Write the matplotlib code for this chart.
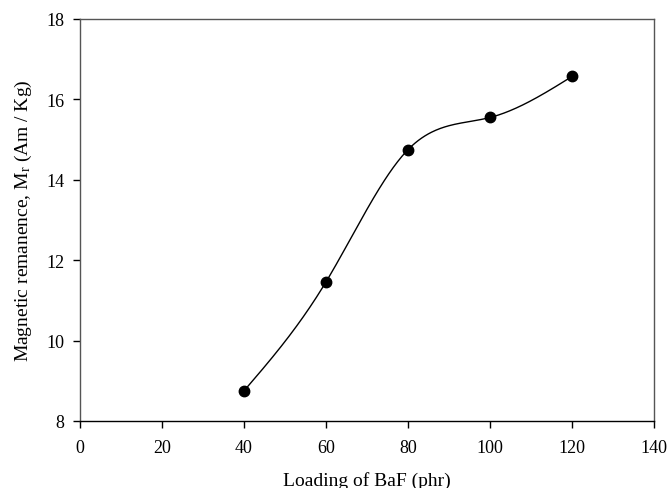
import numpy as np
import matplotlib
matplotlib.use("Agg")
import matplotlib.pyplot as plt

loading = [40, 60, 80, 100, 120]
remanence = [8.75, 11.46, 14.75, 15.55, 16.57]

x_ticks = [0, 20, 40, 60, 80, 100, 120, 140]
y_ticks = [8, 10, 12, 14, 16, 18]


def naturalSpline(x, y, n=300):
    # plain natural cubic spline, drawn through the measured points
    x = np.asarray(x, float)
    y = np.asarray(y, float)
    h = np.diff(x)
    m = len(x)
    A = np.zeros((m, m))
    b = np.zeros(m)
    A[0, 0] = 1
    A[-1, -1] = 1
    for i in range(1, m - 1):
        A[i, i - 1] = h[i - 1]
        A[i, i] = 2 * (h[i - 1] + h[i])
        A[i, i + 1] = h[i]
        b[i] = 6 * ((y[i + 1] - y[i]) / h[i] - (y[i] - y[i - 1]) / h[i - 1])
    M = np.linalg.solve(A, b)
    xs = np.linspace(x[0], x[-1], n)
    k = np.clip(np.searchsorted(x, xs) - 1, 0, m - 2)
    t = xs - x[k]
    hk = h[k]
    a = (M[k + 1] - M[k]) / (6 * hk)
    bb = M[k] / 2
    c = (y[k + 1] - y[k]) / hk - hk * (2 * M[k] + M[k + 1]) / 6
    ys = y[k] + c * t + bb * t ** 2 + a * t ** 3
    return xs, ys


plt.rcParams['font.family'] = ['Liberation Serif', 'DejaVu Serif']
plt.rcParams['mathtext.fontset'] = 'custom'
plt.rcParams['mathtext.rm'] = 'Liberation Serif'
plt.rcParams['mathtext.it'] = 'Liberation Serif'

fig = plt.figure(figsize=(6.68, 4.89), dpi=100)
ax = fig.add_axes([80 / 668, 1 - 422 / 489, 574 / 668, 402 / 489])

xs, ys = naturalSpline(loading, remanence)
ax.plot(xs, ys, color='black', lw=1.0)
ax.plot(loading, remanence, 'o', color='black', markersize=7.5)

ax.set_xlim(0, 140)
ax.set_ylim(8, 18)
ax.set_xticks(x_ticks)
ax.set_yticks(y_ticks)
ax.tick_params(direction='out', length=5, width=1, labelsize=13, pad=6)
ax.tick_params(axis='x', pad=8)
for s in ax.spines.values():
    s.set_color('#555555')
    s.set_linewidth(1)
ax.spines['bottom'].set_color('black')

ax.set_xlabel('Loading of BaF (phr)', fontsize=14, va='center')
ax.xaxis.set_label_coords(0.5, -59 / 402)
ax.set_ylabel('Magnetic remanence, M$_\\mathrm{r}$ (Am / Kg)', fontsize=14, va='center')
ax.yaxis.set_label_coords(-57 / 574, 0.5)

fig.savefig('out.png', dpi=100)
